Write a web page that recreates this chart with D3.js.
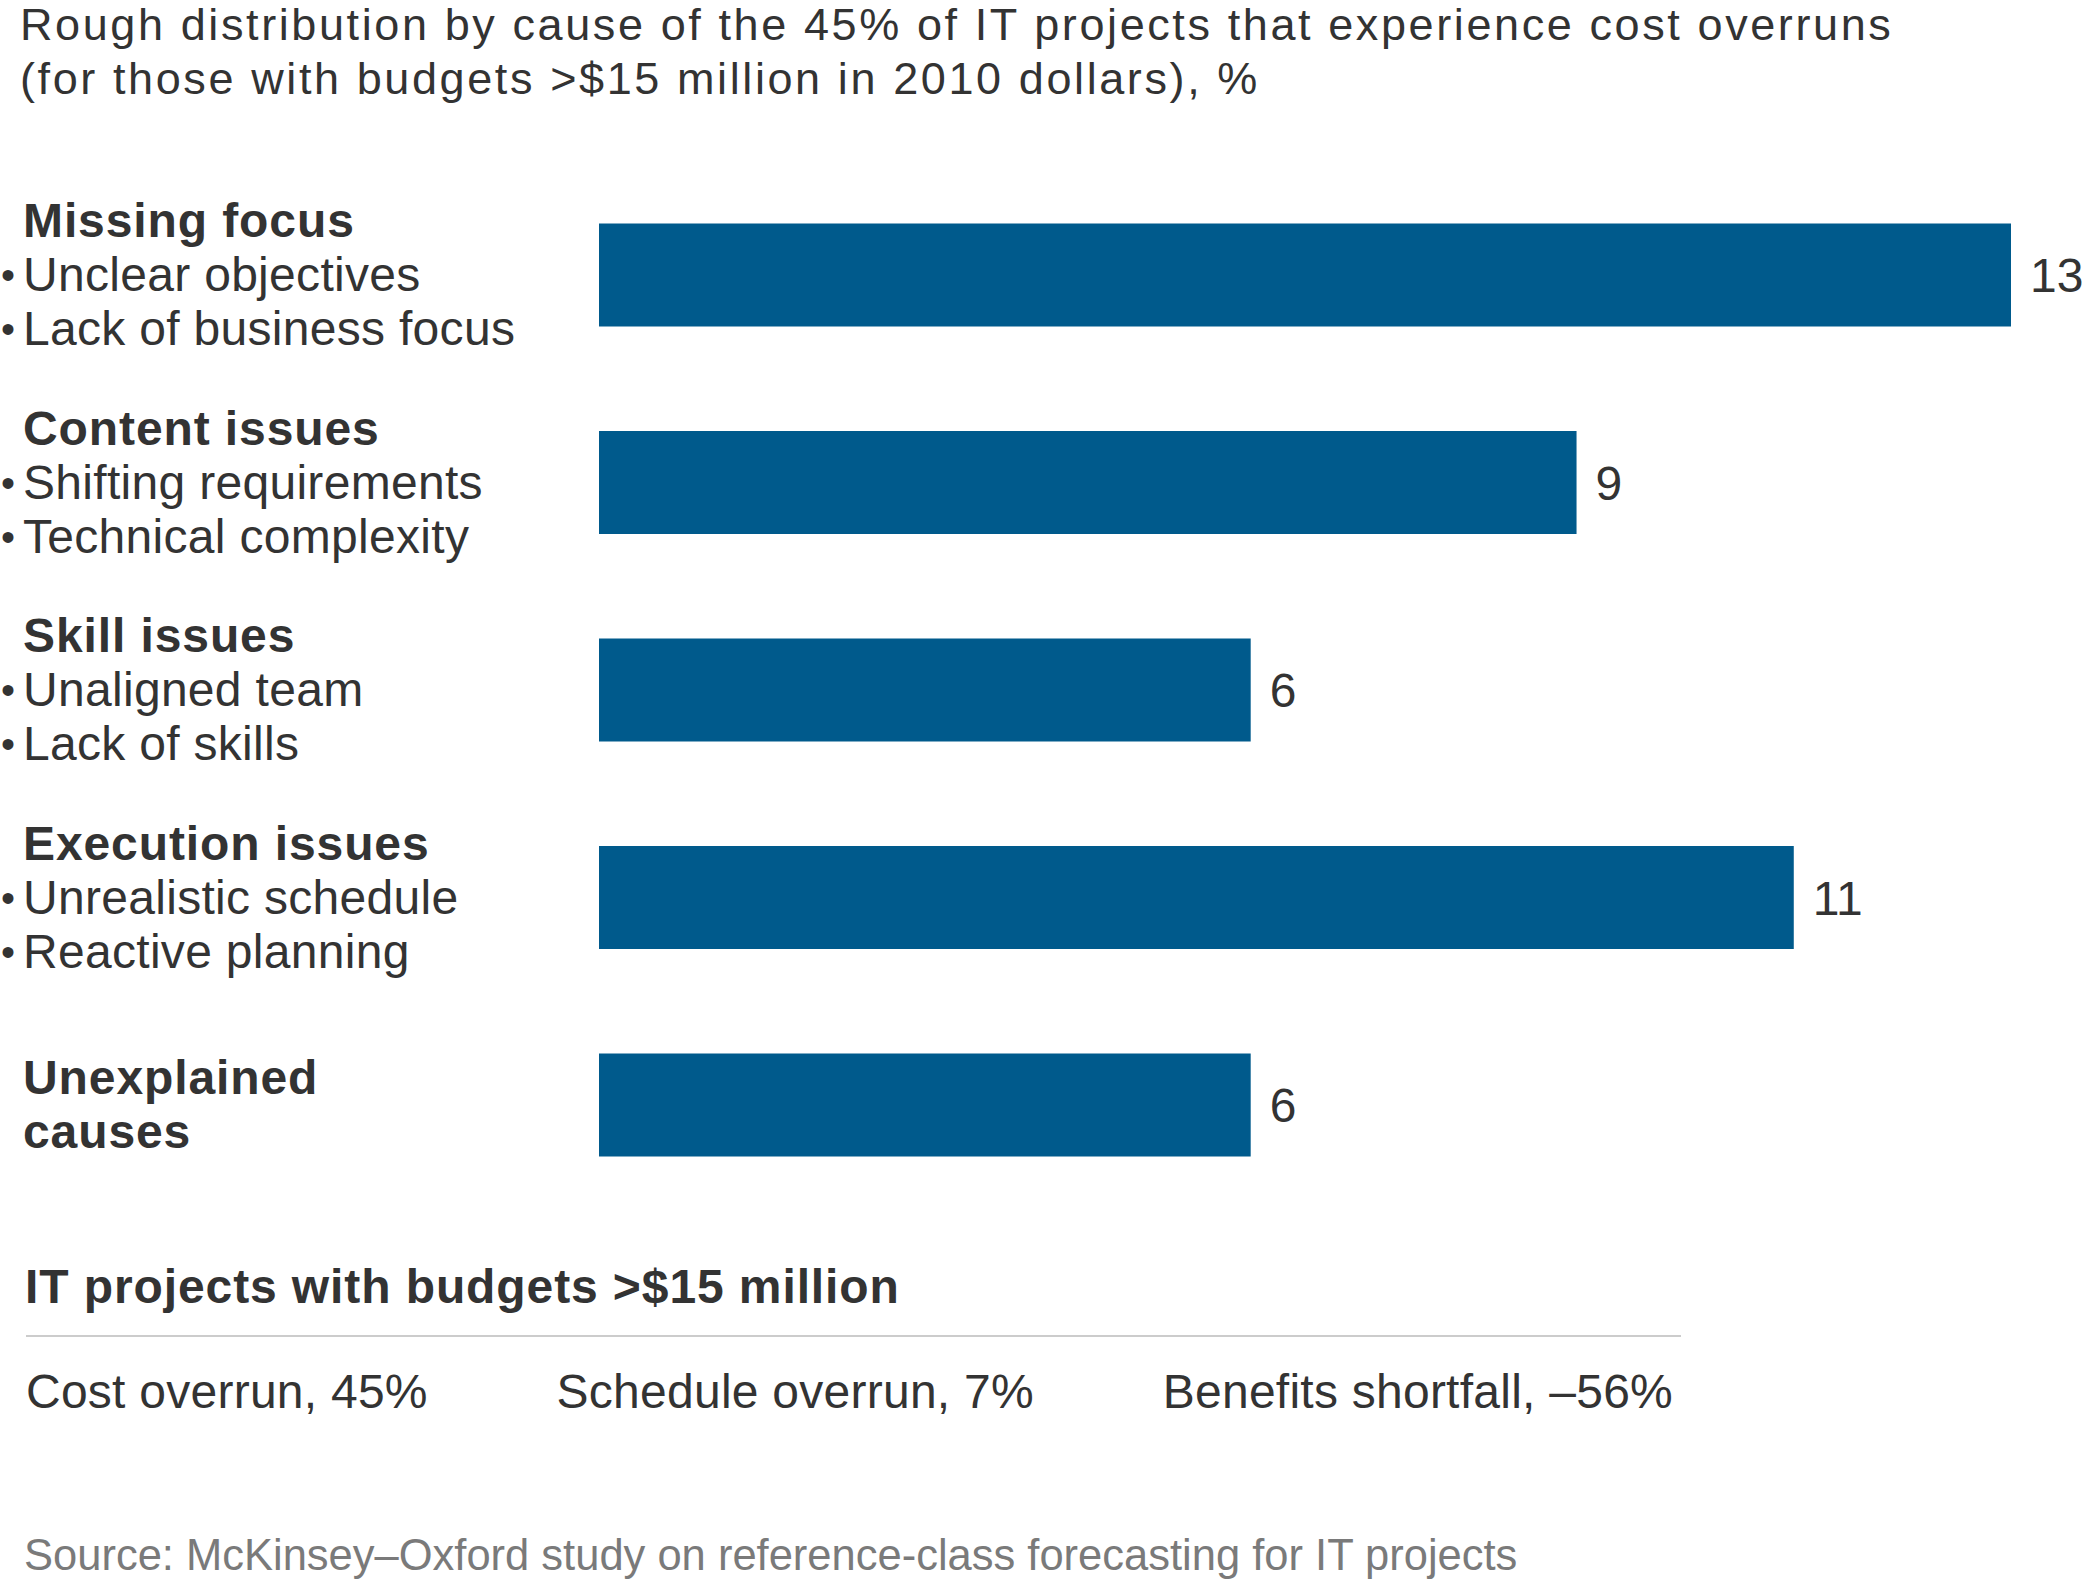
<!DOCTYPE html>
<html>
<head>
<meta charset="utf-8">
<script src="https://cdn.jsdelivr.net/npm/d3@7"></script>
<style>
  body { margin: 0; background: #fff; }
  text { font-family: "Liberation Sans", Arial, sans-serif; fill: #333; }
</style>
</head>
<body>
<div id="chart"></div>
<script>
// chart data
var titleLines = ["Rough distribution by cause of the 45% of IT projects that experience cost overruns",
                  "(for those with budgets >$15 million in 2010 dollars), %"]
var causes = ["Missing focus", "Content issues", "Skill issues", "Execution issues", "Unexplained causes"]
var headLines = [["Missing focus"], ["Content issues"], ["Skill issues"], ["Execution issues"], ["Unexplained", "causes"]]
var bulletLines = [["Unclear objectives", "Lack of business focus"],
                   ["Shifting requirements", "Technical complexity"],
                   ["Unaligned team", "Lack of skills"],
                   ["Unrealistic schedule", "Reactive planning"],
                   []]
var values = [13, 9, 6, 11, 6]
var summaryTitle = "IT projects with budgets >$15 million"
var summaryItems = ["Cost overrun, 45%", "Schedule overrun, 7%", "Benefits shortfall, \u201356%"]
var sourceText = "Source: McKinsey\u2013Oxford study on reference-class forecasting for IT projects"

var width = 2086
var height = 1581
var fontSize = 48
var lineH = 54

var svg = d3.select("#chart")
            .append("svg")
            .attr("width", width)
            .attr("height", height)

svg.selectAll(".title")
    .data(titleLines)
    .enter()
    .append("text")
    .attr("class", "title")
    .attr("x", 20)
    .attr("y", function(d, i){ return 40 + i * 54 })
    .style("font-size", "45px")
    .style("letter-spacing", "2.6px")
    .text(function(d){ return d })

var x = d3.scaleLinear().domain([0, 13]).range([599, 2011])
var y = d3.scalePoint().domain(causes).range([275, 1105])
var barH = 103

svg.selectAll("rect.bar")
    .data(values)
    .enter()
    .append("rect")
    .attr("class", "bar")
    .attr("x", x(0))
    .attr("y", function(d, i){ return y(causes[i]) - barH / 2 })
    .attr("width", function(d){ return x(d) - x(0) })
    .attr("height", barH)
    .attr("fill", "#005a8c")

svg.selectAll("text.value")
    .data(values)
    .enter()
    .append("text")
    .attr("class", "value")
    .attr("x", function(d){ return x(d) + 19 })
    .attr("y", function(d, i){ return y(causes[i]) + 17 })
    .style("font-size", fontSize + "px")
    .text(function(d){ return d })

// category labels, block centered on bar
causes.forEach(function(c, i){
    var lines = headLines[i].map(function(t){ return {t: t, bold: true} })
        .concat(bulletLines[i].map(function(t){ return {t: t, bold: false} }))
    var n = lines.length
    lines.forEach(function(l, j){
        var yy = y(c) + (j - (n - 1) / 2) * lineH + 16
        if (!l.bold) {
            svg.append("text")
                .attr("x", 1)
                .attr("y", yy - 2)
                .style("font-size", "40px")
                .text("\u2022")
        }
        svg.append("text")
            .attr("x", 23)
            .attr("y", yy)
            .style("font-size", fontSize + "px")
            .style("font-weight", l.bold ? "bold" : "normal")
            .style("letter-spacing", l.bold ? "0.9px" : "0.3px")
            .text(l.t)
    })
})

// summary block
svg.append("text")
    .attr("x", 25)
    .attr("y", 1303)
    .style("font-size", fontSize + "px")
    .style("font-weight", "bold")
    .style("letter-spacing", "0.9px")
    .text(summaryTitle)

var ruleX0 = 26, ruleX1 = 1681
svg.append("line")
    .attr("x1", ruleX0).attr("x2", ruleX1)
    .attr("y1", 1336).attr("y2", 1336)
    .style("stroke", "#cccccc")
    .style("stroke-width", 2)

var items = svg.selectAll("text.item")
    .data(summaryItems)
    .enter()
    .append("text")
    .attr("class", "item")
    .attr("y", 1408)
    .style("font-size", fontSize + "px")
    .style("letter-spacing", "0.25px")
    .text(function(d){ return d })

// spread items across the rule width
var widths = []
items.each(function(){ widths.push(this.getComputedTextLength()) })
var gap = (ruleX1 - 8 - ruleX0 - d3.sum(widths)) / (widths.length - 1)
var pos = ruleX0
items.attr("x", function(d, i){
    var p = pos
    pos += widths[i] + gap
    return p
})

svg.append("text")
    .attr("x", 24)
    .attr("y", 1570)
    .style("font-size", "43.5px")
    .style("fill", "#7a7a7a")
    .text(sourceText)
</script>
</body>
</html>
